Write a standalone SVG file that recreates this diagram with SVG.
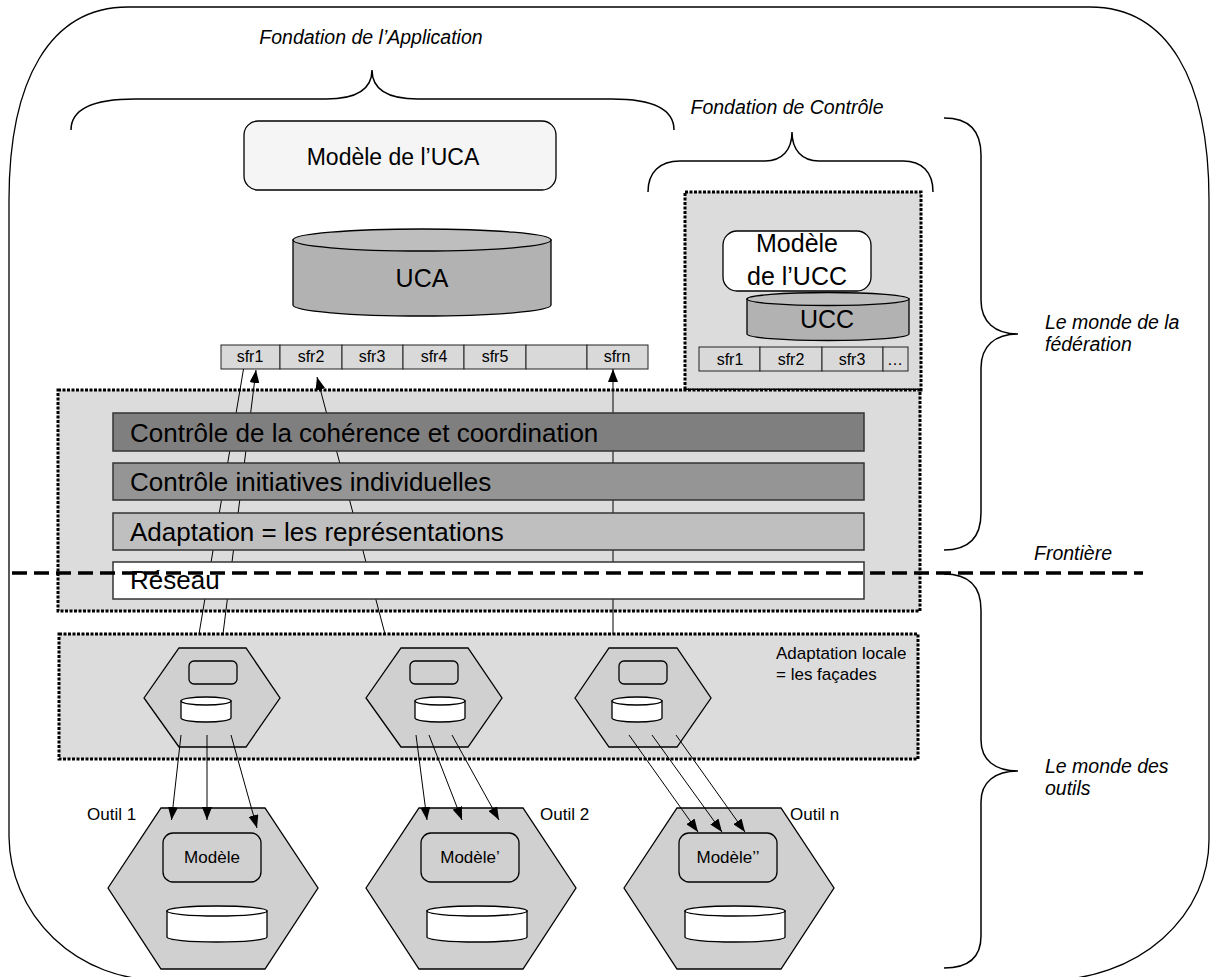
<svg xmlns="http://www.w3.org/2000/svg" width="1211" height="977" viewBox="0 0 1211 977">
<defs>
<style>
text{font-family:"Liberation Sans",Arial,sans-serif;fill:#000}
.it{font-style:italic;font-size:19.5px}
.bar{stroke:#333;stroke-width:1.5}
.bt{font-size:26px}
.dot{fill:#dcdcdc;stroke:#000;stroke-width:3;stroke-dasharray:3 1.5}
.cell{fill:#d9d9d9;stroke:#222;stroke-width:1}
.sf{font-size:16px;text-anchor:middle}
.ln{stroke:#000;stroke-width:1;fill:none}
.br{stroke:#000;stroke-width:1.5;fill:none}
.hex{fill:#d0d0d0;stroke:#000;stroke-width:1.3}
.hin{fill:#d0d0d0;stroke:#000;stroke-width:1.3}
.cw{fill:#fff;stroke:#000;stroke-width:1.3}
.cg{fill:#b2b2b2;stroke:#000;stroke-width:1.3}
.cgt{fill:#bebebe;stroke:#000;stroke-width:1.3}
.ht{font-size:17px;text-anchor:middle}
</style>
<marker id="ah" markerUnits="userSpaceOnUse" markerWidth="13" markerHeight="10" refX="13" refY="5" orient="auto">
<path d="M0,0 L13,5 L0,10 Z" fill="#000"/>
</marker>
</defs>
<rect width="1211" height="977" fill="#fff"/>

<g id="outer">
<path d="M128,7 H1090 C1168,7 1209,80 1209,200 V840 A160 140 0 0 1 1050,980 H159 A150 145 0 0 1 9,837 V200 C9,80 50,7 128,7 Z" fill="none" stroke="#000" stroke-width="1.3"/>
</g>

<g id="brace-application">
<path class="br" d="M71,130 C71,110 90,99 135,99 H326 C355,99 372,90 372,70 C372,90 389,99 418,99 H612 C655,99 674,110 674,130"/>
<text class="it" x="371" y="44" text-anchor="middle">Fondation de l’Application</text>
</g>
<g id="brace-controle">
<path class="br" d="M648,192 C648,172 660,161 680,161 H765 C782,161 792,150 792,132 C792,150 802,161 819,161 H903 C922,161 933,172 933,192"/>
<text class="it" x="787" y="114" text-anchor="middle">Fondation de Contrôle</text>
</g>
<g id="brace-federation">
<path class="br" d="M944,118 C968,118 981,130 981,155 V300 C981,322 995,334 1018,334 C995,334 981,346 981,368 V513 C981,538 968,550 944,550"/>
<text class="it" x="1045" y="329">Le monde de la</text>
<text class="it" x="1045" y="351">fédération</text>
</g>
<g id="brace-outils">
<path class="br" d="M944,574 C968,574 981,586 981,610 V740 C981,760 995,771 1018,771 C995,771 981,782 981,802 V936 C981,958 968,968 944,968"/>
<text class="it" x="1045" y="773">Le monde des</text>
<text class="it" x="1045" y="795">outils</text>
</g>

<g id="modele-uca">
<rect x="244" y="121" width="312" height="69" rx="14" fill="#f5f5f5" stroke="#000" stroke-width="1.3"/>
<text x="393" y="165" font-size="23" text-anchor="middle">Modèle de l’UCA</text>
</g>

<g id="uca">
<path class="cg" d="M293,240 V305 A129 11 0 0 0 551,305 V240 Z"/>
<ellipse class="cgt" cx="422" cy="240" rx="129" ry="11"/>
<text x="422" y="287" font-size="25" text-anchor="middle">UCA</text>
</g>

<g id="sfr-uca">
<rect class="cell" x="221" y="345" width="59" height="24"/>
<rect class="cell" x="280" y="345" width="62" height="24"/>
<rect class="cell" x="342" y="345" width="61" height="24"/>
<rect class="cell" x="403" y="345" width="61" height="24"/>
<rect class="cell" x="464" y="345" width="62" height="24"/>
<rect class="cell" x="526" y="345" width="61" height="24"/>
<rect class="cell" x="587" y="345" width="61" height="24"/>
<text class="sf" x="250" y="362">sfr1</text>
<text class="sf" x="311" y="362">sfr2</text>
<text class="sf" x="372" y="362">sfr3</text>
<text class="sf" x="434" y="362">sfr4</text>
<text class="sf" x="495" y="362">sfr5</text>
<text class="sf" x="617" y="362">sfrn</text>
</g>

<g id="ucc-container">
<rect class="dot" x="685" y="192" width="236" height="198"/>
</g>
<g id="modele-ucc">
<rect x="723" y="231" width="148" height="60" rx="14" fill="#fff" stroke="#000" stroke-width="1.3"/>
<text x="797" y="252" font-size="25" text-anchor="middle">Modèle</text>
<text x="797" y="285" font-size="25" text-anchor="middle">de l’UCC</text>
</g>
<g id="ucc">
<path class="cg" d="M747,299 V334 A81 6.5 0 0 0 909,334 V299 Z"/>
<ellipse class="cgt" cx="828" cy="299" rx="81" ry="6.5"/>
<text x="827" y="328" font-size="25" text-anchor="middle">UCC</text>
</g>
<g id="sfr-ucc">
<rect class="cell" x="699" y="347" width="61" height="24"/>
<rect class="cell" x="760" y="347" width="62" height="24"/>
<rect class="cell" x="822" y="347" width="61" height="24"/>
<rect class="cell" x="883" y="347" width="25" height="24"/>
<text class="sf" x="730" y="365">sfr1</text>
<text class="sf" x="791" y="365">sfr2</text>
<text class="sf" x="852" y="365">sfr3</text>
<text class="sf" x="895" y="365">…</text>
</g>

<g id="federation-container">
<rect class="dot" x="58" y="390" width="862" height="221"/>
</g>
<g id="facade-container">
<rect class="dot" x="59" y="634" width="859" height="125"/>
<text x="776" y="659" font-size="17">Adaptation locale</text>
<text x="776" y="680" font-size="17">= les façades</text>
</g>

<g id="facade-1">
<polygon class="hex" points="144,698 179,648 246,648 280,698 246,747 179,747"/>
<rect class="hin" x="189" y="661" width="48" height="23" rx="5"/>
<path class="cw" d="M181,701 V718 A25 4 0 0 0 231,718 V701 Z"/>
<ellipse class="cw" cx="206" cy="701" rx="25" ry="4"/>
</g>
<g id="facade-2">
<polygon class="hex" points="366,698 401,648 468,648 502,698 468,747 401,747"/>
<rect class="hin" x="410" y="661" width="48" height="23" rx="5"/>
<path class="cw" d="M415,701 V718 A25 4 0 0 0 465,718 V701 Z"/>
<ellipse class="cw" cx="440" cy="701" rx="25" ry="4"/>
</g>
<g id="facade-3">
<polygon class="hex" points="575,698 609,648 677,648 711,698 677,747 609,747"/>
<rect class="hin" x="619" y="661" width="48" height="23" rx="5"/>
<path class="cw" d="M612,701 V718 A25 4 0 0 0 662,718 V701 Z"/>
<ellipse class="cw" cx="637" cy="701" rx="25" ry="4"/>
</g>

<g id="outil-1">
<polygon class="hex" points="108,888 161,808 265,808 318,888 265,969 161,969"/>
<rect class="hin" x="163" y="833" width="98" height="49" rx="10"/>
<text class="ht" x="212" y="863">Modèle</text>
<path class="cw" d="M167,911 V937 A50 5 0 0 0 267,937 V911 Z"/>
<ellipse class="cw" cx="217" cy="911" rx="50" ry="5"/>
<text x="87" y="820" font-size="17">Outil 1</text>
</g>
<g id="outil-2">
<polygon class="hex" points="366,888 419,808 523,808 576,888 523,969 419,969"/>
<rect class="hin" x="421" y="833" width="98" height="49" rx="10"/>
<text class="ht" x="470" y="863">Modèle’</text>
<path class="cw" d="M427,911 V937 A50 5 0 0 0 527,937 V911 Z"/>
<ellipse class="cw" cx="477" cy="911" rx="50" ry="5"/>
<text x="540" y="820" font-size="17">Outil 2</text>
</g>
<g id="outil-n">
<polygon class="hex" points="624,888 677,808 781,808 834,888 781,969 677,969"/>
<rect class="hin" x="679" y="833" width="98" height="49" rx="10"/>
<text class="ht" x="728" y="863">Modèle’’</text>
<path class="cw" d="M685,911 V937 A50 5 0 0 0 785,937 V911 Z"/>
<ellipse class="cw" cx="735" cy="911" rx="50" ry="5"/>
<text x="790" y="820" font-size="17">Outil n</text>
</g>

<g id="connectors">
<line class="ln" x1="199" y1="634" x2="243.5" y2="369"/>
<line class="ln" x1="223" y1="634" x2="256" y2="370" marker-end="url(#ah)"/>
<line class="ln" x1="385" y1="634" x2="317" y2="377" marker-end="url(#ah)"/>
<line class="ln" x1="613" y1="634" x2="613" y2="369" marker-end="url(#ah)"/>
<line class="ln" x1="181" y1="735" x2="171.5" y2="820" marker-end="url(#ah)"/>
<line class="ln" x1="207" y1="735" x2="207" y2="820" marker-end="url(#ah)"/>
<line class="ln" x1="231" y1="735" x2="257" y2="828" marker-end="url(#ah)"/>
<line class="ln" x1="416" y1="735" x2="427" y2="820" marker-end="url(#ah)"/>
<line class="ln" x1="429" y1="735" x2="462" y2="820" marker-end="url(#ah)"/>
<line class="ln" x1="452" y1="735" x2="499" y2="820" marker-end="url(#ah)"/>
<line class="ln" x1="629" y1="735" x2="698" y2="832" marker-end="url(#ah)"/>
<line class="ln" x1="652" y1="735" x2="722" y2="832" marker-end="url(#ah)"/>
<line class="ln" x1="676" y1="735" x2="745" y2="832" marker-end="url(#ah)"/>
</g>

<g id="bar-coherence">
<rect class="bar" x="113" y="413" width="751" height="38" fill="#7f7f7f"/>
<text class="bt" x="130" y="442">Contrôle de la cohérence et coordination</text>
</g>
<g id="bar-initiatives">
<rect class="bar" x="113" y="463" width="751" height="37" fill="#959595"/>
<text class="bt" x="130" y="491">Contrôle initiatives individuelles</text>
</g>
<g id="bar-adaptation">
<rect class="bar" x="113" y="513" width="751" height="37" fill="#bfbfbf"/>
<text class="bt" x="130" y="541">Adaptation = les représentations</text>
</g>
<g id="bar-reseau">
<rect class="bar" x="113" y="562" width="751" height="37" fill="#fff"/>
<text class="bt" x="130" y="589">Réseau</text>
</g>

<g id="frontiere">
<line x1="12" y1="573" x2="1143" y2="573" stroke="#000" stroke-width="3.5" stroke-dasharray="15 7"/>
<text class="it" x="1073" y="560" text-anchor="middle">Frontière</text>
</g>
</svg>
